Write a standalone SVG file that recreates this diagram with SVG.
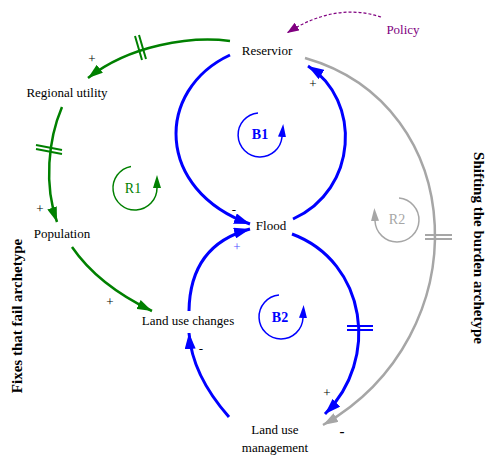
<svg xmlns="http://www.w3.org/2000/svg" width="487" height="457" viewBox="0 0 487 457">
<style>
text{font-family:"Liberation Serif","Times New Roman",serif;font-size:13px;fill:#000}
.node{text-anchor:middle}
.sign{font-size:13px;text-anchor:middle}
.loop{font-size:14px;text-anchor:middle}
.arch{font-size:15px;font-weight:bold;text-anchor:middle}
.g{fill:none;stroke:#008000;stroke-width:2.5}
.b{fill:none;stroke:#0000ff;stroke-width:3}
.y{fill:none;stroke:#a6a6a6;stroke-width:2.5}
.gh{stroke:#008000;stroke-width:2}
.bh{stroke:#0000ff;stroke-width:2}
.yh{stroke:#a6a6a6;stroke-width:2}
.lg{fill:none;stroke:#008000;stroke-width:1.5}
.lb{fill:none;stroke:#0000ff;stroke-width:1.5}
.ly{fill:none;stroke:#a6a6a6;stroke-width:1.5}
</style>
<defs>
<marker id="ag" viewBox="0 0 15 10" refX="15" refY="5" markerWidth="15" markerHeight="10" orient="auto" markerUnits="userSpaceOnUse"><path d="M0,0 L15,5 L0,10 z" fill="#008000"/></marker>
<marker id="ab" viewBox="0 0 16 11" refX="16" refY="5.5" markerWidth="16" markerHeight="11" orient="auto" markerUnits="userSpaceOnUse"><path d="M0,0 L16,5.5 L0,11 z" fill="#0000ff"/></marker>
<marker id="ay" viewBox="0 0 15 10" refX="15" refY="5" markerWidth="15" markerHeight="10" orient="auto" markerUnits="userSpaceOnUse"><path d="M0,0 L15,5 L0,10 z" fill="#a6a6a6"/></marker>
<marker id="ap" viewBox="0 0 12 9" refX="12" refY="4.5" markerWidth="12" markerHeight="9" orient="auto" markerUnits="userSpaceOnUse"><path d="M0,0 L12,4.5 L0,9 z" fill="#800080"/></marker>
<marker id="lg" viewBox="0 0 13 8" refX="0" refY="4" markerWidth="13" markerHeight="8" orient="auto" markerUnits="userSpaceOnUse"><path d="M0,0 L13,4 L0,8 z" fill="#008000"/></marker>
<marker id="lb" viewBox="0 0 13 8" refX="0" refY="4" markerWidth="13" markerHeight="8" orient="auto" markerUnits="userSpaceOnUse"><path d="M0,0 L13,4 L0,8 z" fill="#0000ff"/></marker>
<marker id="ly" viewBox="0 0 13 8" refX="0" refY="4" markerWidth="13" markerHeight="8" orient="auto" markerUnits="userSpaceOnUse"><path d="M0,0 L13,4 L0,8 z" fill="#a6a6a6"/></marker>
</defs>

<g id="connectors">
  <path class="g" d="M230,41 C190,36 130,45 88,78" marker-end="url(#ag)"/>
  <path class="gh" d="M135,36 L142,60 M139,35 L146,59"/>
  <path class="g" d="M62,107 C48,140 44,185 57,222" marker-end="url(#ag)"/>
  <path class="gh" d="M36,145 L62,150 M36,149 L62,154"/>
  <path class="g" d="M72,247 Q98,285 152,311" marker-end="url(#ag)"/>

  <path class="b" d="M230,55 C155,90 155,190 250,224" marker-end="url(#ab)"/>
  <path class="b" d="M189,311 Q190,245 250,229" marker-end="url(#ab)"/>
  <path class="b" d="M293,219 C358,190 362,100 308,66" marker-end="url(#ab)"/>
  <path class="b" d="M292,234 C367,262 380,360 325,414" marker-end="url(#ab)"/>
  <path class="bh" d="M347,326 L373,326 M347,330 L373,330"/>
  <path class="b" d="M229,417 Q192,375 189,333" marker-end="url(#ab)"/>

  <path class="y" d="M305,58 C470,105 480,335 323,425" marker-end="url(#ay)"/>
  <path class="yh" d="M425,235 L452,235 M425,239 L452,239"/>

  <path d="M381,17 Q335,2 287,33" fill="none" stroke="#800080" stroke-width="1.2" stroke-dasharray="3,2" marker-end="url(#ap)"/>
</g>

<g id="loop-R1">
  <path class="lg" d="M131,166.4 A22,22 0 1 0 157,188" marker-end="url(#lg)"/>
  <text class="loop" x="133" y="193" style="fill:#008000">R1</text>
</g>
<g id="loop-B1">
  <path class="lb" d="M258,113 A22,22 0 1 0 282,137" marker-end="url(#lb)"/>
  <text class="loop" x="260" y="139" style="fill:#0000ff;font-weight:bold">B1</text>
</g>
<g id="loop-B2">
  <path class="lb" d="M279,295 A22,22 0 1 0 303,318" marker-end="url(#lb)"/>
  <text class="loop" x="280" y="322" style="fill:#0000ff;font-weight:bold">B2</text>
</g>
<g id="loop-R2">
  <path class="ly" d="M399,198 A22,22 0 1 1 375,221" marker-end="url(#ly)"/>
  <text class="loop" x="397" y="224" style="fill:#a6a6a6">R2</text>
</g>

<g id="node-reservior"><text class="node" x="267" y="55">Reservior</text></g>
<g id="node-policy"><text class="node" x="403" y="34" style="fill:#800080">Policy</text></g>
<g id="node-regional-utility"><text class="node" x="67" y="97">Regional utility</text></g>
<g id="node-population"><text class="node" x="62" y="238">Population</text></g>
<g id="node-flood"><text class="node" x="271" y="230">Flood</text></g>
<g id="node-land-use-changes"><text class="node" x="188" y="325">Land use changes</text></g>
<g id="node-land-use-management"><text class="node" x="275" y="434">Land use</text><text class="node" x="275" y="452">management</text></g>

<g id="signs">
  <text class="sign" x="92" y="63">+</text>
  <text class="sign" x="40" y="213">+</text>
  <text class="sign" x="110" y="306">+</text>
  <text class="sign" x="234" y="214">-</text>
  <text class="sign" x="237" y="251" style="fill:#4d4dff">+</text>
  <text class="sign" x="313" y="88">+</text>
  <text class="sign" x="327" y="397">+</text>
  <text class="sign" x="201" y="353">-</text>
  <text class="sign" x="342" y="436" style="font-weight:bold;font-size:15px">-</text>
</g>

<g id="archetype-labels">
  <text class="arch" transform="translate(22,316) rotate(-90)">Fixes that fail archetype</text>
  <text class="arch" transform="translate(474,248) rotate(90)">Shifting the burden archetype</text>
</g>
</svg>
